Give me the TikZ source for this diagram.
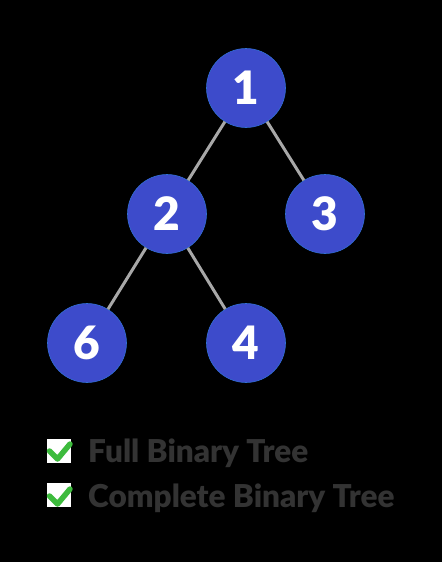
\documentclass[tikz,border=0pt]{standalone}
\usepackage{fontspec}
\setmainfont{Lato}
\newfontfamily\heavy{Lato Black}
\definecolor{nodeblue}{HTML}{3D4BCB}
\definecolor{edgegray}{HTML}{A8A8A8}
\definecolor{txtgray}{HTML}{333333}
\definecolor{checkgreen}{HTML}{3DBB3D}
\begin{document}
\begin{tikzpicture}[x=1pt,y=-1pt,
  tnode/.style={circle,fill=nodeblue,draw=nodeblue!80!cyan,line width=0.6pt,minimum size=79pt,inner sep=0pt,text=white,font=\heavy\fontsize{46}{46}\selectfont},
  tedge/.style={draw=edgegray,line width=3pt},
  lbl/.style={anchor=base west,text=txtgray,font=\heavy\fontsize{31.5}{32}\selectfont,inner sep=0pt},
  chk/.style={draw=checkgreen,line width=5.5pt,line cap=round,line join=round}]
\fill[black] (0,0) rectangle (442,562);
\useasboundingbox (0,0) rectangle (442,562);
\node[tnode] (n1) at (246,88) {1};
\node[tnode] (n2) at (167,214) {2};
\node[tnode] (n3) at (325,214) {3};
\node[tnode] (n6) at (87,343) {6};
\node[tnode] (n4) at (246,343) {4};
\draw[tedge] (n1) -- (n2);
\draw[tedge] (n1) -- (n3);
\draw[tedge] (n2) -- (n6);
\draw[tedge] (n2) -- (n4);
% checkboxes
\node[fill=white,minimum size=24pt,inner sep=0pt] (b1) at (59,450.5) {};
\node[fill=white,minimum size=24pt,inner sep=0pt] (b2) at (59,495) {};
\coordinate (c1a) at (49.5,451);
\coordinate (c1b) at (57.5,459);
\coordinate (c1c) at (70,444);
\draw[chk] (c1a) -- (c1b) -- (c1c);
\coordinate (c2a) at (49.5,496);
\coordinate (c2b) at (57.5,504);
\coordinate (c2c) at (70,489);
\draw[chk] (c2a) -- (c2b) -- (c2c);
\node[lbl] (t1) at (88,462) {Full Binary Tree};
\node[lbl] (t2) at (88,507) {Complete Binary Tree};
\end{tikzpicture}
\end{document}
